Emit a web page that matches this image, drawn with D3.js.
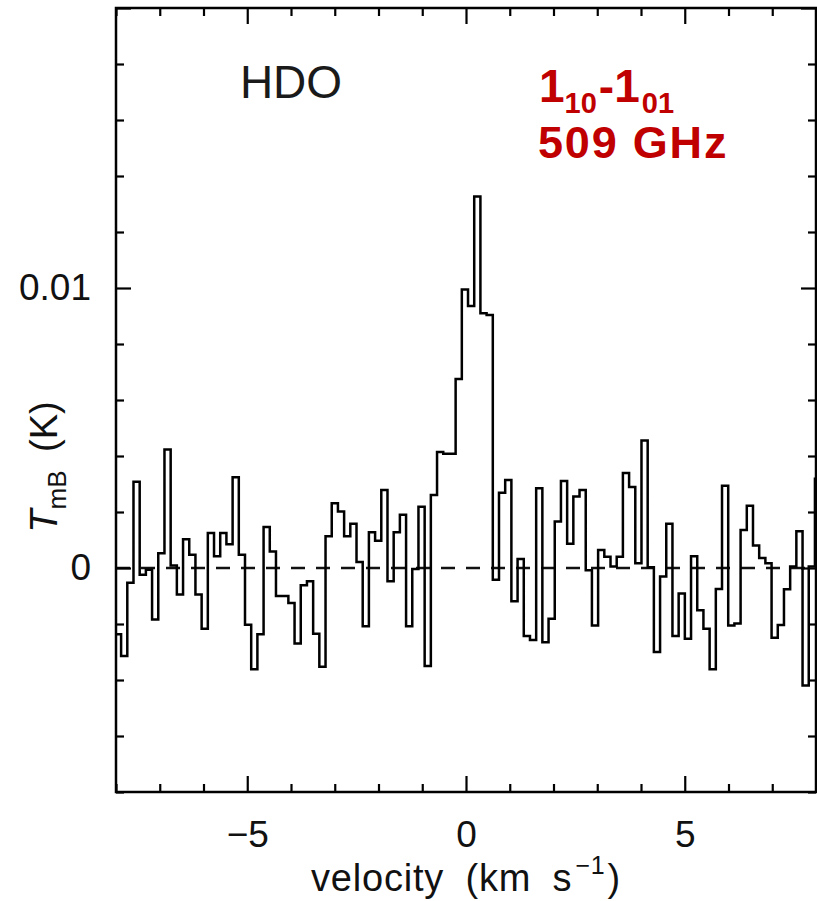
<!DOCTYPE html>
<html>
<head>
<meta charset="utf-8">
<script src="https://cdn.jsdelivr.net/npm/d3@7"></script>
<style>
  html, body { margin: 0; padding: 0; background: #fff; }
  svg { display: block; }
</style>
</head>
<body>
<script>
// HDO 1_10-1_01 (509 GHz) spectrum: main-beam temperature per velocity channel.
const channelStart = -8.025;   // km/s, left edge of the first channel
const channelWidth = 0.1416;   // km/s
const tmbMilliK = [
  -2.37, -3.14, -0.53,  3.08, -0.24, -0.06, -1.84,  0.53,  4.23,  0.09,
  -0.95,  1.03,  0.47, -0.95, -2.17,  1.25,  0.42,  1.25,  0.85,  3.24,
   0.47, -2.03, -3.62, -2.37,  1.46,  0.59, -1.00, -1.00, -1.25, -2.70,
  -0.62, -0.47, -2.35, -3.53,  1.13,  2.31,  2.02,  1.13,  1.58,  0.21,
  -2.08,  1.28,  0.97,  2.79, -0.47,  1.28,  1.90, -2.08, -0.04,  2.19,
  -3.50,  2.61,  4.14,  4.08,  4.08,  6.75,  9.95,  9.36, 13.27,  9.10,
   9.04, -0.42,  2.69,  3.14, -1.19,  0.32, -2.43, -2.57,  2.85, -2.65,
  -1.81,  1.66,  3.11,  0.87,  2.55,  2.79, -0.08, -2.05,  0.64,  0.40,
   0.05,  0.40,  3.39,  2.89,  0.17,  4.55,  0.03, -3.00, -0.30,  1.58,
  -2.43, -0.91, -2.53,  0.42, -1.51, -2.17, -3.62, -0.75,  2.94, -2.05,
  -1.98,  1.36,  2.22,  0.80,  0.36,  0.17, -2.49, -2.04, -0.76,  0.05,
   1.31, -4.20,  0.05,  3.19
];

const xMajorTicks = [-5, 0, 5];
const xMinorTicks = [-8, -7, -6, -4, -3, -2, -1, 1, 2, 3, 4, 6, 7, 8];
const yMajorTicks = [0, 0.01, 0.02];
const yMajorLabels = ["0", "0.01", ""];
const yMinorTicks = [-0.008, -0.006, -0.004, -0.002, 0.002, 0.004, 0.006, 0.008,
                     0.012, 0.014, 0.016, 0.018];

const width = 817, height = 901;
const plot = { left: 116, right: 816, top: 8, bottom: 792 };

const x = d3.scaleLinear().domain([-8, 8]).range([plot.left, plot.right]);
const y = d3.scaleLinear().domain([-0.008, 0.02]).range([plot.bottom, plot.top]);

const svg = d3.select("body").append("svg")
  .attr("width", width).attr("height", height);

const font = "'Liberation Sans', Arial, Helvetica, sans-serif";

svg.append("defs").append("clipPath").attr("id", "plotClip")
  .append("rect")
  .attr("x", plot.left).attr("y", plot.top)
  .attr("width", plot.right - plot.left).attr("height", plot.bottom - plot.top);

// zero baseline
svg.append("line")
  .attr("x1", x(-8)).attr("x2", x(8))
  .attr("y1", y(0)).attr("y2", y(0))
  .attr("stroke", "#111").attr("stroke-width", 2.4)
  .attr("stroke-dasharray", "14,11");

// spectrum as a histogram (one flat step per channel)
const steps = tmbMilliK.map((t, i) => [channelStart + i * channelWidth, t / 1000]);
steps.push([channelStart + tmbMilliK.length * channelWidth, tmbMilliK[tmbMilliK.length - 1] / 1000]);

const line = d3.line()
  .x(d => x(d[0]))
  .y(d => y(d[1]))
  .curve(d3.curveStepAfter);

svg.append("path")
  .datum(steps)
  .attr("clip-path", "url(#plotClip)")
  .attr("d", line)
  .attr("fill", "none")
  .attr("stroke", "#000")
  .attr("stroke-width", 2.5)
  .attr("stroke-linejoin", "miter");

// axes: ticks point inward on all four sides
function styleAxis(g) {
  g.select(".domain").remove();
  g.selectAll(".tick line").attr("stroke", "#000").attr("stroke-width", 2.2);
  g.selectAll(".tick text")
    .attr("fill", "#111")
    .style("font-family", font)
    .style("font-size", "37px");
}

svg.append("g").attr("transform", `translate(0,${plot.bottom})`)
  .call(d3.axisBottom(x).tickValues(xMajorTicks).tickSize(-16).tickPadding(29)
    .tickFormat(d3.format("d")))
  .call(styleAxis);
svg.append("g").attr("transform", `translate(0,${plot.bottom})`)
  .call(d3.axisBottom(x).tickValues(xMinorTicks).tickSize(-8).tickFormat(""))
  .call(styleAxis);
svg.append("g").attr("transform", `translate(0,${plot.top})`)
  .call(d3.axisTop(x).tickValues(xMajorTicks).tickSize(-16).tickFormat(""))
  .call(styleAxis);
svg.append("g").attr("transform", `translate(0,${plot.top})`)
  .call(d3.axisTop(x).tickValues(xMinorTicks).tickSize(-8).tickFormat(""))
  .call(styleAxis);

svg.append("g").attr("transform", `translate(${plot.left},0)`)
  .call(d3.axisLeft(y).tickValues(yMajorTicks).tickSize(-15).tickPadding(25)
    .tickFormat((d, i) => yMajorLabels[i]))
  .call(styleAxis);
svg.append("g").attr("transform", `translate(${plot.left},0)`)
  .call(d3.axisLeft(y).tickValues(yMinorTicks).tickSize(-8).tickFormat(""))
  .call(styleAxis);
svg.append("g").attr("transform", `translate(${plot.right},0)`)
  .call(d3.axisRight(y).tickValues(yMajorTicks).tickSize(-15).tickFormat(""))
  .call(styleAxis);
svg.append("g").attr("transform", `translate(${plot.right},0)`)
  .call(d3.axisRight(y).tickValues(yMinorTicks).tickSize(-8).tickFormat(""))
  .call(styleAxis);

// frame
svg.append("rect")
  .attr("x", plot.left).attr("y", plot.top)
  .attr("width", plot.right - plot.left).attr("height", plot.bottom - plot.top)
  .attr("fill", "none").attr("stroke", "#000").attr("stroke-width", 2.5);

// x-axis title
const xTitle = svg.append("text")
  .attr("x", 466).attr("y", 891)
  .attr("text-anchor", "middle")
  .attr("fill", "#111")
  .style("font-family", font)
  .style("font-size", "38px")
  .style("letter-spacing", "0.8px")
  .style("word-spacing", "10px");
xTitle.append("tspan").text("velocity (km s");
xTitle.append("tspan").attr("dx", 3).attr("dy", -17).style("font-size", "25px").text("\u22121");
xTitle.append("tspan").attr("dx", 2).attr("dy", 17).text(")");

// y-axis title
const yTitle = svg.append("text")
  .attr("transform", "translate(57,467) rotate(-90)")
  .attr("text-anchor", "middle")
  .attr("fill", "#111")
  .style("font-family", font)
  .style("font-size", "38px")
  .style("word-spacing", "8px");
yTitle.append("tspan").style("font-style", "italic").text("T");
yTitle.append("tspan").attr("dy", 9).style("font-size", "26px").text("mB");
yTitle.append("tspan").attr("dy", -9).text(" (K)");

// molecule label
svg.append("text")
  .attr("x", 291).attr("y", 98)
  .attr("text-anchor", "middle")
  .attr("fill", "#1a1a1a")
  .style("font-family", font)
  .style("font-size", "46px")
  .text("HDO");

// transition label
const red = "#c00000";
const trans = svg.append("text")
  .attr("x", 539).attr("y", 102)
  .attr("fill", red)
  .style("font-family", font)
  .style("font-weight", "bold")
  .style("font-size", "46px");
trans.append("tspan").text("1");
trans.append("tspan").attr("dy", 11).style("font-size", "29px").text("10");
trans.append("tspan").attr("dy", -11).attr("dx", 2).text("-1");
trans.append("tspan").attr("dy", 11).attr("dx", 2).style("font-size", "29px").text("01");

svg.append("text")
  .attr("x", 538).attr("y", 158)
  .attr("fill", red)
  .style("font-family", font)
  .style("font-weight", "bold")
  .style("font-size", "45px")
  .style("letter-spacing", "1.8px")
  .text("509 GHz");
</script>
</body>
</html>
